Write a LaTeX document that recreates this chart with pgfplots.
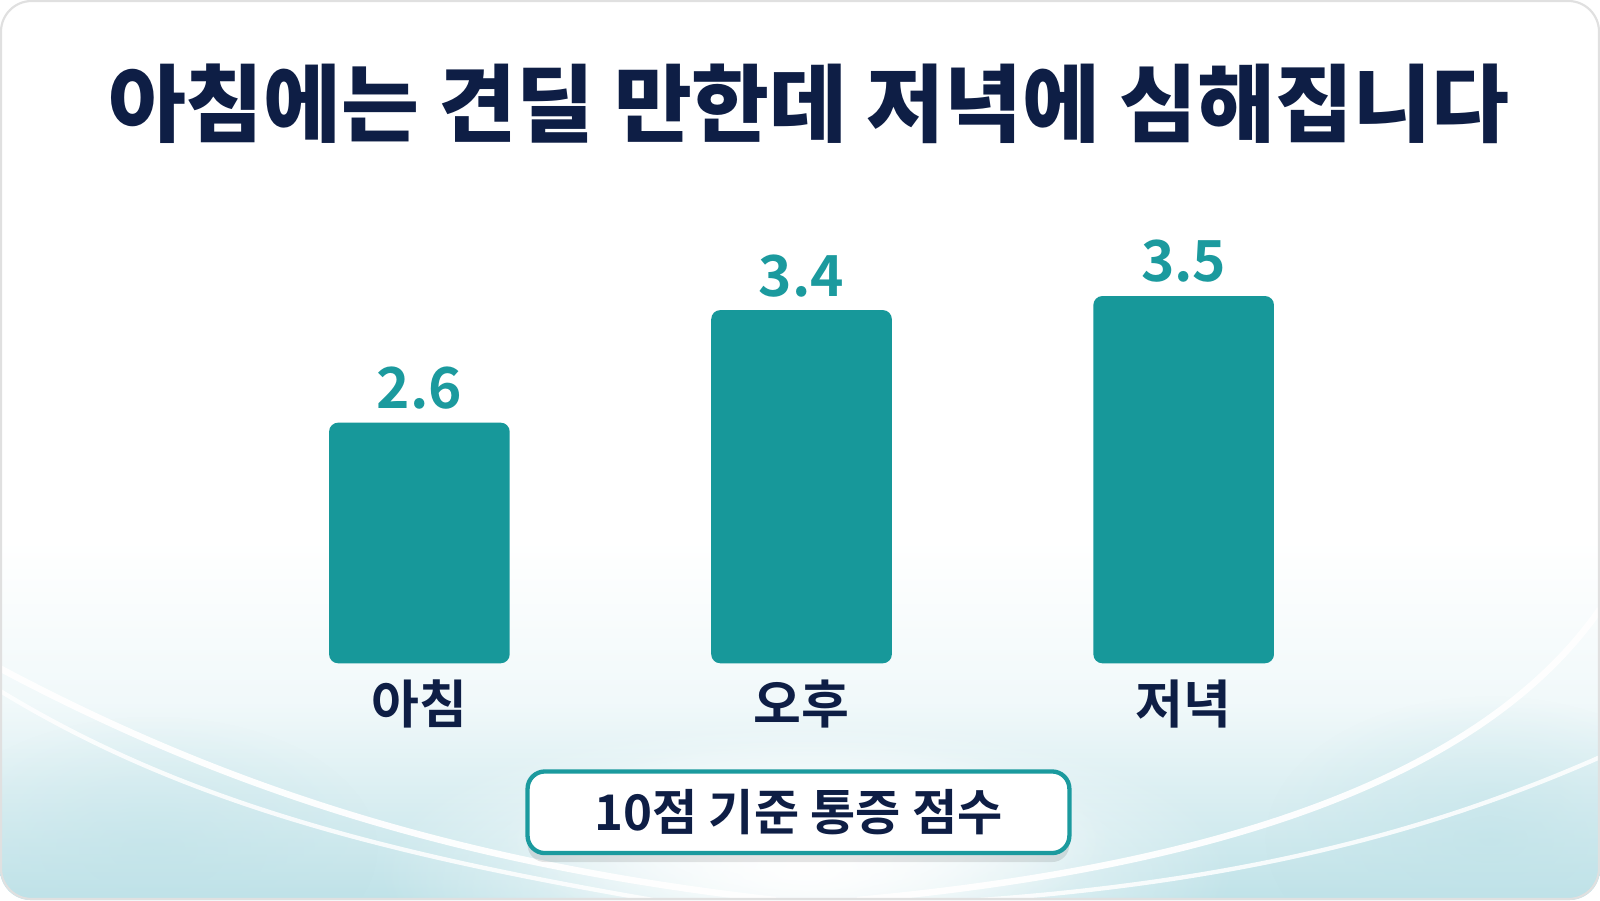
\documentclass[border=0pt]{standalone}
\usepackage{fontspec}
\setmainfont{Noto Sans CJK KR}[BoldFont={Noto Sans CJK KR Bold}]
\newfontfamily\blackfont{Noto Sans CJK KR Black}
\usepackage{pgfplots}
\pgfplotsset{compat=1.18}
\usetikzlibrary{shadows,fadings}
\tikzfading[name=myfade, inner color=transparent!0, outer color=transparent!100]
\definecolor{navy}{HTML}{0E1E45}
\definecolor{barteal}{HTML}{17989A}
\definecolor{labteal}{HTML}{1B9A9E}
\definecolor{bgteal}{HTML}{BFE2E8}
\pgfdeclareverticalshading{bgshade}{100bp}{color(0bp)=(bgteal); color(25bp)=(bgteal); color(29bp)=(bgteal!70!white); color(36bp)=(bgteal!22!white); color(45bp)=(white); color(100bp)=(white)}
\begin{document}
\begin{tikzpicture}
% background card
\path[use as bounding box] (0,0) rectangle (15.68,8.82);
\begin{scope}
\clip[rounded corners=0.3cm] (0,0) rectangle (15.68,8.82);
\shade[shading=bgshade] (0,0) rectangle (15.68,8.82);
\fill[white, path fading=myfade, opacity=1] (7.9,0.3) ellipse (4.2cm and 1.5cm);
\fill[white, path fading=myfade, opacity=1] (7.9,0.6) ellipse (3.0cm and 1.0cm);
\fill[bgteal, path fading=myfade, opacity=0.6] (14.6,0.6) ellipse (2.2cm and 1.4cm);
\fill[bgteal, path fading=myfade, opacity=0.5] (1.5,0.5) ellipse (2.2cm and 1.3cm);
\draw[white, line width=1.8pt, opacity=0.95] (0,2.27) .. controls (2.2,1.1) and (4.5,0.35) .. (7.6,0.0);
\draw[white, line width=1.2pt, opacity=0.85] (0,2.05) .. controls (1.8,0.95) and (3.8,0.45) .. (6.4,0.0);
\draw[white, line width=1.8pt, opacity=0.95] (15.68,2.85) .. controls (14.6,1.3) and (12.2,0.35) .. (8.4,0.0);
\draw[white, line width=1.2pt, opacity=0.85] (15.68,1.40) .. controls (14.2,0.75) and (12.4,0.2) .. (9.6,0.0);
\end{scope}
\draw[black!12, line width=0.6pt, rounded corners=0.3cm] (0.01,0.01) rectangle (15.67,8.81);
% title
\node[font=\blackfont\fontsize{23.6pt}{26pt}\selectfont, text=navy] at (7.925,7.80) {아침에는 견딜 만한데 저녁에 심해집니다};
% caption box
\node[draw=labteal, line width=1.2pt, fill=white, rounded corners=0.17cm,
      minimum width=5.31cm, minimum height=0.80cm,
      drop shadow={shadow xshift=0pt, shadow yshift=-2.5pt, opacity=0.10, fill=black},
      font=\bfseries\fontsize{13.7pt}{16pt}\selectfont, text=navy] at (7.825,0.86) {10점 기준 통증 점수};
\begin{axis}[
  at={(0,2.32cm)}, anchor=south west,
  scale only axis, width=15.68cm, height=6.50cm,
  xmin=-1.0975, xmax=3.0895,
  ymin=0.89, ymax=5.604,
  axis line style={draw=none},
  major tick length=0pt,
  ytick=\empty,
  xtick={0,1,2},
  xticklabels={아침,오후,저녁},
  xticklabel style={font=\bfseries\fontsize{14.5pt}{17pt}\selectfont, text=navy, yshift=-0.04cm},
  ybar, bar width=1.77cm,
  nodes near coords={\pgfmathprintnumber[fixed,fixed zerofill,precision=1,assume math mode=true]{\pgfplotspointmeta}},
  every node near coord/.append style={font=\bfseries\fontsize{15.8pt}{19pt}\selectfont, text=labteal, inner sep=3.5pt},
]
\addplot[fill=barteal, draw=none, rounded corners=2.5pt] coordinates {(0,2.6) (1,3.4) (2,3.5)};
\end{axis}
\end{tikzpicture}
\end{document}
